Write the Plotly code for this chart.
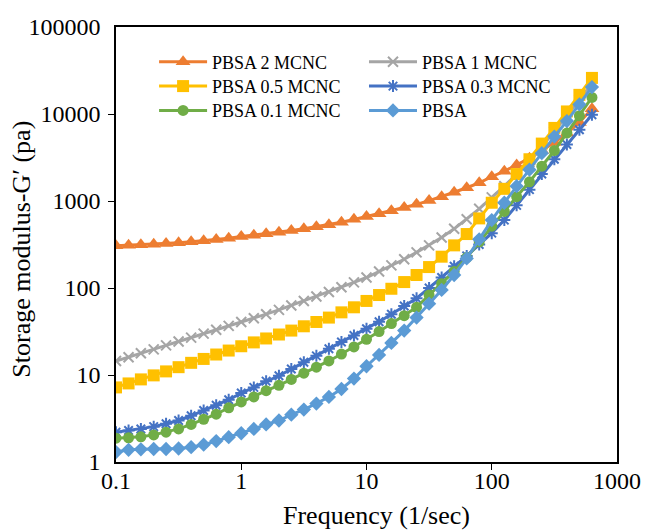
import plotly.graph_objects as go

freq = [0.1, 0.126, 0.158, 0.2, 0.251, 0.316, 0.398, 0.501, 0.631, 0.794,
        1.0, 1.26, 1.58, 2.0, 2.51, 3.16, 3.98, 5.01, 6.31, 7.94,
        10.0, 12.6, 15.8, 20.0, 25.1, 31.6, 39.8, 50.1, 63.1, 79.4,
        100.0, 126, 158, 200, 251, 316, 398, 501, 631]

pbsa_2 = [305, 309, 314, 319, 325, 332, 340, 349, 360, 373,
          390, 405, 420, 438, 458, 480, 505, 535, 570, 615,
          665, 715, 775, 840, 915, 1010, 1120, 1260, 1420, 1620,
          1900, 2200, 2600, 3100, 3800, 4700, 6000, 8000, 11500]

pbsa_1 = [14.5, 16, 17.8, 19.7, 21.9, 24.3, 26.9, 29.9, 33.1, 36.7,
          40.7, 45, 50, 56, 63, 71, 80, 90, 102, 116,
          132, 155, 182, 214, 257, 309, 380, 479, 617, 813,
          1100, 1480, 2040, 2800, 4200, 6300, 9600, 14500, 22500]

pbsa_05 = [7.2, 8.0, 8.9, 9.9, 11.0, 12.3, 13.8, 15.3, 17.2, 19.1,
           21.4, 23.7, 26.3, 29.2, 32.4, 36.3, 40.7, 45.7, 52.5, 60,
           71, 83, 98, 117, 141, 174, 229, 309, 417, 631,
           955, 1380, 2040, 3020, 4570, 6920, 10700, 16600, 26000]

pbsa_03 = [2.2, 2.3, 2.4, 2.55, 2.75, 3.0, 3.4, 3.9, 4.5, 5.2,
           6.2, 7.2, 8.5, 9.8, 11.7, 14, 16.6, 20, 24, 28.5,
           34, 41, 50, 62, 76, 100, 132, 178, 234, 316,
           427, 603, 891, 1350, 2040, 3020, 4470, 6600, 9800]

pbsa_01 = [1.88, 1.9, 1.95, 2.05, 2.2, 2.4, 2.7, 3.1, 3.55, 4.2,
           4.9, 5.6, 6.6, 7.6, 8.9, 10.5, 12.3, 14.5, 17.4, 21,
           25.7, 31.6, 39, 48, 60, 83, 112, 155, 224, 339,
           513, 759, 1120, 1660, 2510, 3800, 6030, 9550, 15500]

pbsa_0 = [1.3, 1.38, 1.4, 1.41, 1.41, 1.43, 1.48, 1.58, 1.74, 1.93,
          2.14, 2.4, 2.7, 3.0, 3.5, 4.0, 4.7, 5.6, 6.9, 9.1,
          12.6, 17, 23.4, 32.4, 45.7, 66, 95, 141, 219, 363,
          603, 955, 1480, 2290, 3550, 5500, 8300, 12900, 20400]

x_ticks = [0.1, 1, 10, 100, 1000]
x_tick_text = ["0.1", "1", "10", "100", "1000"]
y_ticks = [1, 10, 100, 1000, 10000, 100000]
y_tick_text = ["1", "10", "100", "1000", "10000", "100000"]

FONT = "Liberation Serif, Times New Roman, serif"

# name, values, colour, marker, marker size, legend id, legend column, legend row
series = [
    ("PBSA 2 MCNC", pbsa_2, "#ED7D31", "triangle-up", 13, "legend", 0, 0),
    ("PBSA 1 MCNC", pbsa_1, "#A5A5A5", "x-thin-open", 10, "legend2", 1, 0),
    ("PBSA 0.5 MCNC", pbsa_05, "#FFC000", "square", 12, "legend3", 0, 1),
    ("PBSA 0.3 MCNC", pbsa_03, "#4472C4", "asterisk-open", 10, "legend4", 1, 1),
    ("PBSA 0.1 MCNC", pbsa_01, "#70AD47", "circle", 11, "legend5", 0, 2),
    ("PBSA", pbsa_0, "#5B9BD5", "diamond", 11, "legend6", 1, 2),
]

fig = go.Figure()
for name, vals, color, sym, size, leg, col, row in series:
    fig.add_trace(go.Scatter(
        x=freq, y=vals, name=name, mode="lines+markers",
        line=dict(color=color, width=3),
        marker=dict(symbol=sym, size=size, color=color,
                    line=dict(color=color, width=2 if "open" in sym else 0)),
        legend=leg,
    ))

legend_common = dict(font=dict(family=FONT, size=18, color="black"),
                     bgcolor="rgba(0,0,0,0)", borderwidth=0,
                     itemwidth=48, xanchor="left", yanchor="top")
col_x = [0.076, 0.495]
row_y = [0.962, 0.906, 0.850]
legends = {}
for name, vals, color, sym, size, leg, col, row in series:
    legends[leg] = dict(x=col_x[col], y=row_y[row], **legend_common)

fig.update_layout(
    width=645, height=531,
    margin=dict(l=116, r=28, t=27, b=69, autoexpand=False),
    paper_bgcolor="white", plot_bgcolor="white",
    font=dict(family=FONT, color="black"),
    showlegend=True,
    **legends,
)

fig.update_xaxes(
    type="log", range=[-1, 3], automargin=False,
    tickvals=x_ticks, ticktext=x_tick_text,
    ticks="outside", ticklen=1, tickcolor="rgba(0,0,0,0)",
    ticklabelstandoff=-5,
    minor=dict(tickvals=[1, 10, 100], ticks="outside", ticklen=6,
               tickcolor="black", tickwidth=1.3, showgrid=False),
    tickfont=dict(family=FONT, size=24, color="black"),
    showline=True, linecolor="black", linewidth=1.5, mirror=True,
    showgrid=False, zeroline=False,
)
fig.update_yaxes(
    type="log", range=[0, 5], automargin=False,
    tickvals=y_ticks, ticktext=y_tick_text,
    ticks="outside", ticklen=9, tickcolor="rgba(0,0,0,0)",
    minor=dict(tickvals=[10, 100, 1000, 10000], ticks="outside", ticklen=6,
               tickcolor="black", tickwidth=1.3, showgrid=False),
    tickfont=dict(family=FONT, size=24, color="black"),
    showline=True, linecolor="black", linewidth=1.5, mirror=True,
    showgrid=False, zeroline=False,
)

fig.add_annotation(text="Frequency (1/sec)", xref="paper", yref="paper",
                   x=0.519, y=-0.124, xanchor="center", yanchor="middle",
                   showarrow=False, font=dict(family=FONT, size=26, color="black"))
fig.add_annotation(text="Storage modulus-G′ (pa)", xref="paper", yref="paper",
                   x=-0.188, y=0.49, xanchor="center", yanchor="middle",
                   textangle=-90, showarrow=False,
                   font=dict(family=FONT, size=26, color="black"))

fig.write_html("out.html")
